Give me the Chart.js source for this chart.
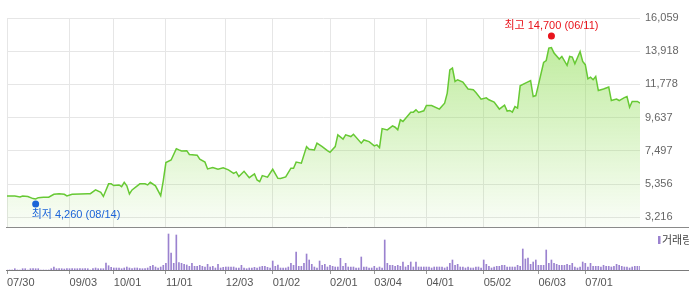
<!DOCTYPE html>
<html lang="ko">
<head>
<meta charset="utf-8">
<title>주가 차트</title>
<script src="https://cdn.jsdelivr.net/npm/chart.js@4.4.1/dist/chart.umd.min.js"></script>
<style>
  html, body { margin: 0; padding: 0; background: #fff; }
  #wrap { position: relative; width: 689px; height: 291px; overflow: hidden; }
  #priceChart { position: absolute; left: 0; top: 0; }
  #volumeChart { position: absolute; left: 0; top: 229px; }
</style>
</head>
<body>
<div id="wrap">
  <canvas id="priceChart" width="689" height="229"></canvas>
  <canvas id="volumeChart" width="689" height="62"></canvas>
</div>
<script>
  // trading-day index of each x tick (07/30 = day 0)
  const xTickDays = [0, 24, 41, 61, 84, 102, 124, 141, 161, 183, 204, 222];
  const xTickLabels = ["07/30", "09/03", "10/01", "11/01", "12/03", "01/02", "02/01", "03/04", "04/01", "05/02", "06/03", "07/01"];

  const yTickValues = [3216, 5356, 7497, 9637, 11778, 13918, 16059];
  const yTickLabels = ["3,216", "5,356", "7,497", "9,637", "11,778", "13,918", "16,059"];
  const priceRange = [2525, 16059];

  // closing price
  const priceDays = [
    0, 3, 5, 6, 8, 10, 11, 12, 14, 16, 18, 20, 22, 23, 25, 28, 31, 32, 34, 36,
    37, 39, 40, 41, 43, 44, 45, 46, 47, 48, 51, 53, 54, 55, 57, 59, 60, 61, 63, 65,
    66, 67, 69, 70, 73, 74, 76, 77, 79, 81, 83, 85, 87, 88, 89, 91, 93, 95, 96, 97,
    98, 100, 102, 104, 105, 107, 109, 110, 111, 113, 115, 116, 118, 119, 121, 123, 124, 126, 127, 129,
    130, 132, 133, 136, 137, 139, 141, 142, 143, 144, 146, 148, 149, 150, 151, 152, 155, 156, 157, 158,
    160, 161, 163, 166, 168, 169, 170, 171, 172, 173, 175, 177, 179, 180, 182, 184, 185, 187, 189, 190,
    191, 192, 193, 194, 195, 196, 197, 199, 201, 202, 203, 204, 206, 207, 208, 209, 210, 212, 213, 215,
    216, 217, 218, 220, 221, 222, 223, 224, 225, 226, 227, 229, 231, 232, 234, 235, 237, 238, 239, 240,
    242, 243
  ];
  const priceValues = [
    4590, 4590, 4530, 4590, 4550, 4420, 4400, 4480, 4510, 4510, 4700, 4740, 4700, 4590, 4700, 4720, 4740, 4740, 4980, 4830,
    4560, 5370, 5370, 5260, 5300, 5190, 5470, 5240, 4720, 4980, 5370, 5370, 5300, 5470, 5240, 4610, 5580, 6740, 6910, 7640,
    7560, 7490, 7510, 7260, 7220, 6960, 6770, 6330, 6420, 6310, 6400, 6270, 6050, 6140, 5840, 6180, 5770, 6010, 5620, 5510,
    5900, 5800, 6310, 5730, 5710, 5820, 6380, 6380, 6770, 6700, 7770, 7600, 7560, 7990, 7770, 7510, 7400, 7770, 8530, 8250,
    8530, 8420, 8570, 7990, 8200, 8090, 7820, 7880, 7710, 8930, 8850, 9110, 9020, 8850, 9500, 9390, 9990, 9990, 10140, 9970,
    10080, 10420, 10420, 10190, 10570, 11220, 12720, 12830, 11970, 12080, 11930, 11480, 11430, 11260, 10830, 10910, 10790, 10640, 10190, 10320,
    10440, 10060, 10100, 9990, 10350, 10250, 11690, 11860, 12030, 11000, 11060, 11750, 13190, 13320, 14120, 14150, 13800, 13410, 13580, 13000,
    13580, 13540, 13110, 13900, 13260, 13050, 12140, 12250, 12080, 12290, 11390, 11480, 11610, 10740, 10830, 10740, 10930, 11000, 10310, 10680,
    10680, 10570
  ];

  // daily volume (thousand shares), one per trading day
  const volumes = [
    0, 0, 0, 130, 0, 0, 130, 130, 0, 130, 130, 130, 130, 0, 0, 0, 0, 130, 300, 130,
    130, 130, 100, 130, 130, 130, 130, 130, 130, 130, 130, 130, 0, 130, 200, 130, 130, 130, 700, 430,
    270, 200, 200, 200, 130, 200, 300, 200, 130, 200, 200, 130, 130, 130, 200, 370, 470, 300, 200, 300,
    470, 670, 3600, 1700, 670, 3500, 730, 670, 570, 500, 370, 670, 370, 370, 470, 370, 300, 570, 300, 370,
    200, 570, 200, 270, 300, 300, 300, 300, 200, 200, 470, 200, 130, 200, 200, 270, 200, 300, 370, 370,
    270, 200, 900, 370, 500, 200, 200, 200, 300, 670, 470, 1800, 370, 370, 670, 1600, 1000, 570, 300, 200,
    900, 470, 570, 300, 470, 370, 300, 300, 1170, 370, 670, 300, 300, 300, 200, 200, 1300, 300, 300, 200,
    200, 370, 200, 300, 200, 3000, 670, 470, 470, 370, 470, 370, 800, 300, 470, 800, 300, 800, 300, 300,
    300, 300, 300, 200, 300, 300, 300, 300, 200, 300, 670, 1000, 470, 570, 300, 300, 200, 300, 200, 200,
    300, 300, 200, 1000, 570, 370, 200, 300, 370, 370, 470, 470, 300, 300, 300, 300, 470, 370, 2100, 1100,
    1200, 570, 800, 1000, 470, 470, 470, 2000, 670, 1000, 670, 570, 470, 470, 470, 570, 470, 670, 300, 200,
    300, 800, 670, 300, 670, 370, 370, 370, 300, 470, 370, 370, 300, 370, 570, 470, 370, 300, 300, 200,
    300, 370, 370, 370
  ];
  const volumeMax = 3800;

  const extremeDays = [209, 11];
  const extremeValues = [14700, 4260];
  const extremeLabels = ["최고 14,700 (06/11)", "최저 4,260 (08/14)"];
  const extremeColors = ["#e8141c", "#1c64d8"];

  const lastDay = volumes.length - 1;
  const fontFamily = "'Liberation Sans', 'Noto Sans CJK KR', sans-serif";
  const gridColor = "#e6e6e6";

  const markerPlugin = {
    id: "markers",
    afterDatasetsDraw(chart) {
      const { ctx, chartArea, scales: { x, y } } = chart;
      ctx.save();
      ctx.strokeStyle = "#8a8a8a";
      ctx.lineWidth = 1;
      ctx.beginPath();
      ctx.moveTo(chartArea.left - 1, Math.round(chartArea.bottom) - 0.5);
      ctx.lineTo(chart.width, Math.round(chartArea.bottom) - 0.5);
      ctx.stroke();

      ctx.font = "11px " + fontFamily;
      ctx.textBaseline = "middle";
      extremeDays.forEach((d, i) => {
        const px = x.getPixelForValue(d);
        const isHigh = i === 0;
        const py = y.getPixelForValue(extremeValues[i]) + (isHigh ? -3 : 3);
        ctx.fillStyle = extremeColors[i];
        ctx.beginPath();
        ctx.arc(px, py, 3.5, 0, Math.PI * 2);
        ctx.fill();
        if (isHigh) {
          ctx.textAlign = "center";
          ctx.fillText(extremeLabels[i], px, py - 10.5);
        } else {
          ctx.textAlign = "left";
          ctx.fillText(extremeLabels[i], px - 4, py + 10.5);
        }
      });
      ctx.restore();
    },
  };

  const volumePlugin = {
    id: "volumeFrame",
    afterDatasetsDraw(chart) {
      const { ctx, chartArea } = chart;
      ctx.save();
      ctx.strokeStyle = "#7a7a7a";
      ctx.lineWidth = 1;
      ctx.beginPath();
      ctx.moveTo(chartArea.left - 1, Math.round(chartArea.bottom) + 0.5);
      ctx.lineTo(chart.width, Math.round(chartArea.bottom) + 0.5);
      ctx.stroke();

      ctx.fillStyle = "#9b82cf";
      ctx.fillRect(658, chartArea.top + 4, 2.5, 8);
      ctx.fillStyle = "#444";
      ctx.font = "11px " + fontFamily;
      ctx.textAlign = "left";
      ctx.textBaseline = "middle";
      ctx.fillText("거래량", 662, chartArea.top + 8.5);
      ctx.restore();
    },
  };

  new Chart(document.getElementById("priceChart"), {
    type: "line",
    data: {
      datasets: [{
        data: priceDays.map((d, i) => ({ x: d, y: priceValues[i] })),
        borderColor: "#67c934",
        borderWidth: 1.5,
        pointRadius: 0,
        tension: 0,
        fill: "start",
        backgroundColor: (c) => {
          const { ctx, chartArea } = c.chart;
          if (!chartArea) return "rgba(140,220,80,0.3)";
          const g = ctx.createLinearGradient(0, chartArea.top, 0, chartArea.bottom);
          g.addColorStop(0, "rgba(140,220,80,0.62)");
          g.addColorStop(1, "rgba(140,220,80,0.04)");
          return g;
        },
      }],
    },
    options: {
      responsive: false,
      animation: false,
      layout: { padding: { left: 7, top: 18, right: 0, bottom: 1 } },
      plugins: { legend: { display: false }, tooltip: { enabled: false } },
      scales: {
        x: {
          type: "linear",
          min: 0,
          max: lastDay,
          afterBuildTicks: (s) => { s.ticks = xTickDays.map((v) => ({ value: v })); },
          afterFit: (s) => { s.height = 0; s.paddingLeft = 0; s.paddingRight = 0; },
          grid: { color: gridColor, drawTicks: false },
          border: { display: false },
          ticks: { display: false },
        },
        y: {
          position: "right",
          min: priceRange[0],
          max: priceRange[1],
          afterBuildTicks: (s) => { s.ticks = yTickValues.map((v) => ({ value: v })); },
          afterFit: (s) => { s.width = 49; s.paddingTop = 0; s.paddingBottom = 0; },
          grid: { color: gridColor, drawTicks: false },
          border: { display: false },
          ticks: {
            padding: 5,
            color: "#666",
            font: { size: 11, family: fontFamily },
            callback: (v, i) => yTickLabels[i],
          },
        },
      },
    },
    plugins: [markerPlugin],
  });

  new Chart(document.getElementById("volumeChart"), {
    type: "bar",
    data: {
      datasets: [{
        data: volumes.map((v, i) => ({ x: i, y: v })),
        backgroundColor: "#9b82cf",
        borderWidth: 0,
        barThickness: 1,
      }],
    },
    options: {
      responsive: false,
      animation: false,
      layout: { padding: { left: 7, top: 3, right: 49, bottom: 0 } },
      plugins: { legend: { display: false }, tooltip: { enabled: false } },
      scales: {
        x: {
          type: "linear",
          min: 0,
          max: lastDay,
          offset: false,
          afterBuildTicks: (s) => { s.ticks = xTickDays.map((v) => ({ value: v })); },
          afterFit: (s) => { s.height = 21; s.paddingLeft = 0; s.paddingRight = 0; },
          grid: { drawOnChartArea: false, drawTicks: true, tickLength: 4, color: "#999", offset: false },
          border: { display: false },
          ticks: {
            align: "start",
            padding: 2,
            maxRotation: 0,
            autoSkip: false,
            color: "#555",
            font: { size: 11, family: fontFamily },
            callback: (v, i) => xTickLabels[i],
          },
        },
        y: { display: false, min: 0, max: volumeMax },
      },
    },
    plugins: [volumePlugin],
  });
</script>
</body>
</html>
